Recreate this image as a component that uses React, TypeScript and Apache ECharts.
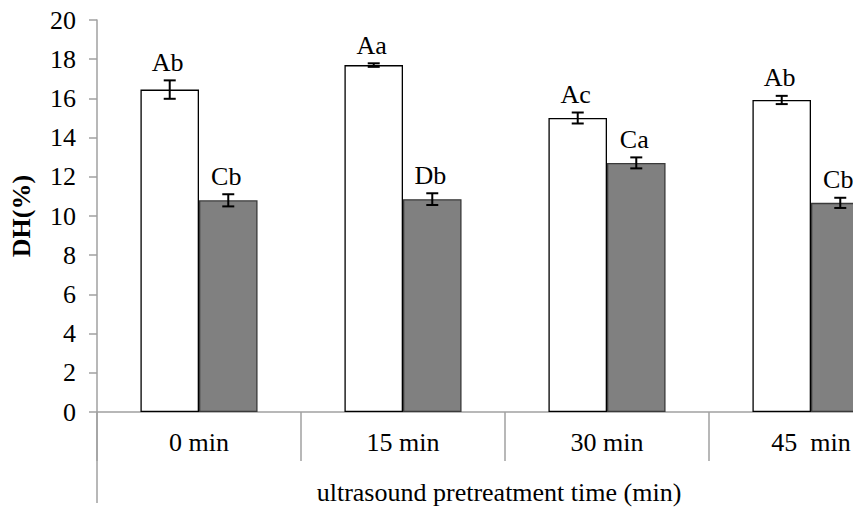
import React, { useEffect, useRef } from "react";
import * as echarts from "echarts";

// Pretreatment times on the category axis
const categories = ["0 min", "15 min", "30 min", "45  min"];

// Degree of hydrolysis (%) for the two sample groups, with standard deviations
const whiteValues = [16.45, 17.7, 15.0, 15.92];
const whiteSd = [0.47, 0.09, 0.28, 0.21];
const grayValues = [10.8, 10.86, 12.71, 10.67];
const graySd = [0.31, 0.3, 0.28, 0.26];

// Significance letters drawn above each bar
const whiteLetters = ["Ab", "Aa", "Ac", "Ab"];
const grayLetters = ["Cb", "Db", "Ca", "Cb"];

// Y axis range
const yMin = 0;
const yMax = 20;
const yStep = 2;

const FONT = "Liberation Serif";
const AXIS_GRAY = "#a0a0a0";
const BAR_RATIO = 0.287;

const baseText = { fontFamily: FONT, fontSize: 26, color: "#000" };

function errorSeries(values: number[], sds: number[], letters: string[], side: number) {
  return {
    type: "custom",
    z: 10,
    silent: true,
    data: values.map((v, i) => [i, v, sds[i]]),
    encode: { x: 0, y: 1 },
    renderItem: (params: any, api: any) => {
      const i = api.value(0);
      const v = api.value(1);
      const sd = api.value(2);
      const band = api.size([1, 0])[0];
      const barW = band * BAR_RATIO;
      const cx = api.coord([i, v])[0] + (side * barW) / 2;
      const yHi = api.coord([i, v + sd])[1];
      const yLo = api.coord([i, v - sd])[1];
      const cap = 6;
      const style = { stroke: "#000", lineWidth: 2 };
      return {
        type: "group",
        children: [
          { type: "line", shape: { x1: cx, y1: yHi, x2: cx, y2: yLo }, style },
          { type: "line", shape: { x1: cx - cap, y1: yHi, x2: cx + cap, y2: yHi }, style },
          { type: "line", shape: { x1: cx - cap, y1: yLo, x2: cx + cap, y2: yLo }, style },
          {
            type: "text",
            x: cx - 2,
            y: yHi - 5,
            style: {
              text: letters[params.dataIndex],
              fontSize: 26,
              fontFamily: FONT,
              fill: "#000",
              align: "center",
              verticalAlign: "bottom",
            },
          },
        ],
      };
    },
  };
}

export default function App() {
  const ref = useRef<HTMLDivElement>(null);

  useEffect(() => {
    if (!ref.current) return;
    const chart = echarts.init(ref.current, null, { renderer: "svg" });
    chart.setOption({
      animation: false,
      backgroundColor: "#ffffff",
      textStyle: { fontFamily: FONT, fontSize: 26, color: "#000" },
      grid: {
        left: 97,
        top: 20,
        width: 816,
        height: 392,
        containLabel: false,
        outerBoundsMode: "none",
      },
      xAxis: {
        type: "category",
        data: categories,
        boundaryGap: true,
        axisLine: { show: true, lineStyle: { color: AXIS_GRAY, width: 1.5 } },
        axisTick: { show: true, interval: 0, length: 49, lineStyle: { color: AXIS_GRAY, width: 1.5 } },
        axisLabel: { ...baseText, interval: 0, margin: 17 },
        name: "ultrasound pretreatment time (min)",
        nameLocation: "middle",
        nameGap: 67,
        nameTextStyle: { ...baseText, padding: [0, 12, 0, 0] },
        splitLine: { show: false },
      },
      yAxis: {
        type: "value",
        min: yMin,
        max: yMax,
        interval: yStep,
        axisLine: { show: true, lineStyle: { color: AXIS_GRAY, width: 1.5 } },
        axisTick: { show: true, length: 8, lineStyle: { color: AXIS_GRAY, width: 1.5 } },
        axisLabel: { ...baseText, margin: 21 },
        splitLine: { show: false },
        name: "DH(%)",
        nameLocation: "middle",
        nameGap: 63,
        nameRotate: 90,
        nameTextStyle: { ...baseText, fontWeight: "bold" },
      },
      series: [
        {
          name: "series1",
          type: "bar",
          data: whiteValues,
          barWidth: `${BAR_RATIO * 100}%`,
          barGap: "0%",
          itemStyle: { color: "#ffffff", borderColor: "#000000", borderWidth: 1.3 },
        },
        {
          name: "series2",
          type: "bar",
          data: grayValues,
          barWidth: `${BAR_RATIO * 100}%`,
          barGap: "0%",
          itemStyle: { color: "#808080", borderColor: "#3a3a3a", borderWidth: 1.3 },
        },
        errorSeries(whiteValues, whiteSd, whiteLetters, -1),
        errorSeries(grayValues, graySd, grayLetters, 1),
      ],
      graphic: [
        {
          type: "line",
          shape: { x1: 97, y1: 412, x2: 97, y2: 503 },
          style: { stroke: AXIS_GRAY, lineWidth: 1.5 },
        },
      ],
    });
    return () => chart.dispose();
  }, []);

  // The plot runs past the right edge, so the chart is wider than its frame
  return (
    <div
      style={{
        position: "absolute",
        left: 0,
        top: 0,
        width: 853,
        height: 509,
        overflow: "hidden",
        background: "#fff",
      }}
    >
      <div ref={ref} style={{ width: 930, height: 509 }} />
    </div>
  );
}
